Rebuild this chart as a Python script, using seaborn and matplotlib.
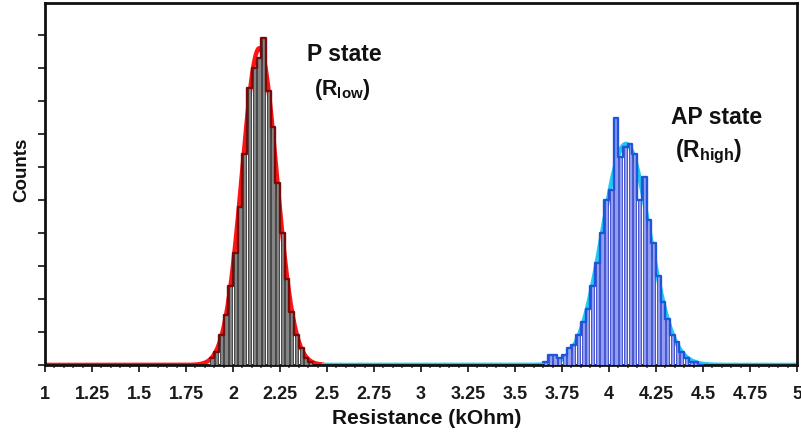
import numpy as np
import pandas as pd
import matplotlib
matplotlib.use("Agg")
import matplotlib.pyplot as plt
from matplotlib.ticker import MultipleLocator
import seaborn as sns

# ---- histogram data (counts per 0.025 kOhm bin) ----
bin_width = 0.025

p_start = 1.875
p_counts = [2, 4, 9, 15, 24, 34, 48, 64, 84, 90, 93, 99, 83, 72, 55, 40, 26, 16, 9, 5, 2, 1]

ap_start = 3.65
ap_counts = [1, 3, 3, 2, 3, 5, 6, 9, 13, 17, 24, 31, 40, 50, 53, 75, 63, 66, 67, 64,
             50, 57, 44, 37, 27, 19, 14, 9, 7, 4, 2, 1, 1, 0]

# Gaussian fit parameters: centre (kOhm), width (kOhm), amplitude (counts)
p_fit = (2.14, 0.092, 96)
ap_fit = (4.09, 0.125, 67)

x_ticks = [1, 1.25, 1.5, 1.75, 2, 2.25, 2.5, 2.75, 3, 3.25, 3.5, 3.75, 4, 4.25, 4.5, 4.75, 5]
x_tick_labels = ["1", "1.25", "1.5", "1.75", "2", "2.25", "2.5", "2.75", "3", "3.25",
                 "3.5", "3.75", "4", "4.25", "4.5", "4.75", "5"]

sns.set_style("white")
plt.rcParams["font.family"] = ["Liberation Sans", "DejaVu Sans"]
plt.rcParams["mathtext.fontset"] = "custom"
plt.rcParams["mathtext.rm"] = "Liberation Sans"
plt.rcParams["mathtext.bf"] = "Liberation Sans:bold"
plt.rcParams["mathtext.it"] = "Liberation Sans:italic"


def hist_frame(start, counts):
    edges = start + bin_width * np.arange(len(counts) + 1)
    centers = (edges[:-1] + edges[1:]) / 2
    return pd.DataFrame({"r": centers, "n": counts}), [float(e) for e in edges]


def gauss(x, fit):
    mu, sd, amp = fit
    return amp * np.exp(-0.5 * ((x - mu) / sd) ** 2)


fig = plt.figure(figsize=(8.01, 4.36), dpi=100)
ax = fig.add_axes([0.0562, 0.163, 0.9388, 0.830])

p_df, p_edges = hist_frame(p_start, p_counts)
ap_df, ap_edges = hist_frame(ap_start, ap_counts)

# fitted curves along the baseline
xr = np.linspace(1.0, 2.48, 600)
xb = np.linspace(2.48, 5.0, 900)
sns.lineplot(x=xr, y=gauss(xr, p_fit), ax=ax, color="#ff1414", lw=3.2, zorder=2)
sns.lineplot(x=xb, y=gauss(xb, ap_fit), ax=ax, color="#1ecbf2", lw=3.2, zorder=2)

# bars
sns.histplot(data=p_df, x="r", weights="n", bins=p_edges, shrink=0.7, ax=ax,
             color="#858585", edgecolor="#333333", linewidth=0.6, alpha=1, zorder=3)
sns.histplot(data=ap_df, x="r", weights="n", bins=ap_edges, shrink=0.7, ax=ax,
             color="#929ef4", edgecolor="#3343c4", linewidth=0.6, alpha=1, zorder=3)

# step outlines
sns.histplot(data=p_df, x="r", weights="n", bins=p_edges, element="step", fill=False,
             ax=ax, color="#7a0a0a", linewidth=1.7, zorder=4)
sns.histplot(data=ap_df, x="r", weights="n", bins=ap_edges, element="step", fill=False,
             ax=ax, color="#1f55d8", linewidth=1.7, zorder=4)

ax.set_xlim(1, 5)
ax.set_ylim(0, 109.7)

ax.set_xticks(x_ticks)
ax.set_xticklabels(x_tick_labels, fontsize=13, fontweight="bold", color="#1a1a1a")
ax.xaxis.set_minor_locator(MultipleLocator(0.05))
ax.set_yticks(np.arange(0, 101, 10))
ax.set_yticklabels([])
ax.tick_params(axis="x", which="major", direction="out", length=5, width=1.4,
               color="#333333", pad=10, bottom=True)
ax.tick_params(axis="x", which="minor", direction="out", length=2.5, width=1.2,
               color="#555555", bottom=True)
ax.tick_params(axis="y", which="major", direction="out", length=5, width=1.4,
               color="#333333", left=True)

for s in ax.spines.values():
    s.set_linewidth(2)
    s.set_color("#111111")

ax.set_xlabel("Resistance (kOhm)", fontsize=15, fontweight="bold", color="#111111",
              va="center")
ax.set_ylabel("Counts", fontsize=13.5, fontweight="bold", color="#111111", va="center")
ax.xaxis.set_label_coords(0.508, -0.148)
ax.yaxis.set_label_coords(-0.031, 0.54)

ax.text(2.59, 94, "P state", fontsize=16.5, fontweight="bold", ha="center", va="center",
        color="#111111")
ax.text(2.58, 83.5, r"$\mathbf{(R_{low})}$", fontsize=15.5, ha="center", va="center",
        color="#111111")
ax.text(4.57, 75, "AP state", fontsize=16.5, fontweight="bold", ha="center", va="center",
        color="#111111")
ax.text(4.53, 64.5, r"$\mathbf{(R_{high})}$", fontsize=16.5, ha="center", va="center",
        color="#111111")

fig.savefig("out.png", dpi=100, facecolor="white")
